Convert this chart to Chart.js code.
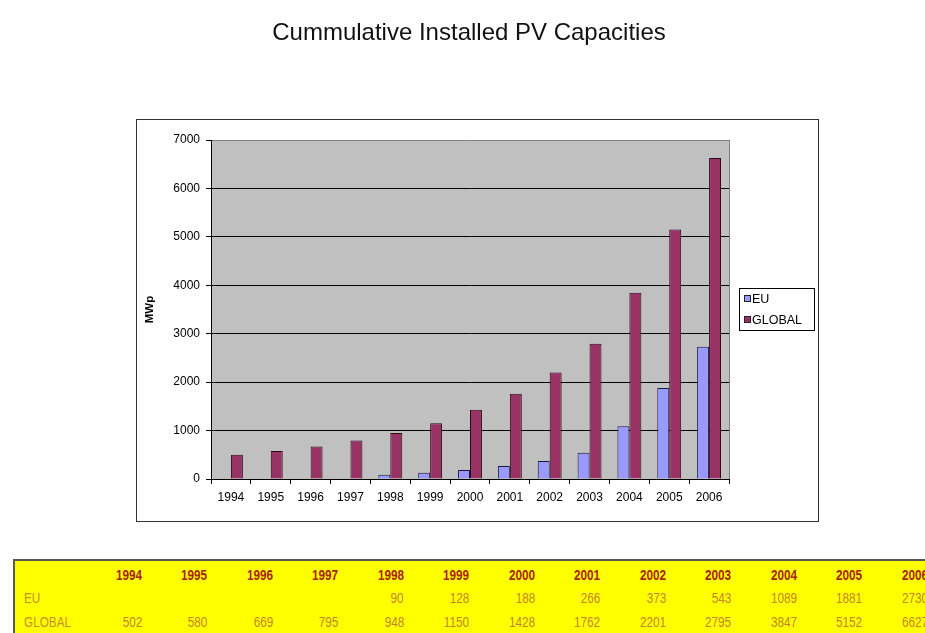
<!DOCTYPE html>
<html>
<head>
<meta charset="utf-8">
<script src="https://cdn.jsdelivr.net/npm/chart.js@4.4.1/dist/chart.umd.min.js"></script>
<style>
  html, body { margin: 0; padding: 0; background: #fff; overflow: hidden; width: 925px; height: 633px; }
  #wrap { position: absolute; left: 0; top: 0; width: 925px; height: 555px; }
  #title { position: absolute; left: 169px; top: 18px; width: 600px; text-align: center; line-height: 28px;
           font-family: "Liberation Sans", Arial, sans-serif; font-size: 24px; color: #111; }
  #tbl { position: absolute; left: 13px; top: 559px; width: 930px; height: 80px; background: #FFFF00;
         border-top: 2px solid #5a5a50; border-left: 2px solid #5a5a50; overflow: hidden; }
  #tbl table { border-collapse: collapse; border-spacing: 0; table-layout: fixed; width: 913px; margin: 2px 0 0 0;
               font-family: "Liberation Sans", Arial, sans-serif; font-size: 14px; }
  #tbl td { height: 23.5px; padding: 0; white-space: nowrap; box-sizing: border-box; }
  #tbl td span { display: inline-block; transform: scaleX(0.84); }
  #tbl td.lab { width: 61.5px; padding-left: 9px; text-align: left; color: #C8902E; }
  #tbl td.lab span { transform-origin: left center; }
  #tbl td.num { width: 65.5px; text-align: right; color: #C4862A; }
  #tbl td.num span, #tbl td.hdr span { transform-origin: right center; }
  #tbl td.hdr { width: 65.5px; text-align: right; color: #A8240A; font-weight: bold; }
</style>
</head>
<body>
<div id="wrap"><canvas id="c" width="925" height="555"></canvas></div>
<div id="title"></div>
<div id="tbl"></div>
<script>
const TITLE = "Cummulative Installed PV Capacities";
const years = ["1994","1995","1996","1997","1998","1999","2000","2001","2002","2003","2004","2005","2006"];
const euValues = [null, null, null, null, 90, 128, 188, 266, 373, 543, 1089, 1881, 2730];
const globalValues = [502, 580, 669, 795, 948, 1150, 1428, 1762, 2201, 2795, 3847, 5152, 6627];
const yTicks = [0, 1000, 2000, 3000, 4000, 5000, 6000, 7000];
const seriesNames = ["EU", "GLOBAL"];
const yAxisTitle = "MWp";

document.getElementById('title').textContent = TITLE;

const decor = {
  id: 'decor',
  beforeDraw(chart) {
    const ctx = chart.ctx, a = chart.chartArea;
    ctx.save();
    ctx.fillStyle = '#fff';
    ctx.fillRect(0, 0, chart.width, chart.height);
    ctx.strokeStyle = '#333';
    ctx.lineWidth = 1;
    ctx.strokeRect(136.5, 119.5, 682, 402);
    ctx.fillStyle = '#C0C0C0';
    ctx.fillRect(a.left, a.top, a.right - a.left, a.bottom - a.top);
    ctx.restore();
  },
  afterDraw(chart) {
    const ctx = chart.ctx, a = chart.chartArea;
    ctx.save();
    ctx.strokeStyle = '#808080';
    ctx.lineWidth = 1;
    ctx.beginPath();
    ctx.moveTo(Math.round(a.right) + 0.5, a.top);
    ctx.lineTo(Math.round(a.right) + 0.5, a.bottom);
    ctx.stroke();
    // legend
    const lx = 739.5, ly = 288.5, lw = 75, lh = 42;
    ctx.fillStyle = '#fff';
    ctx.fillRect(lx, ly, lw, lh);
    ctx.strokeStyle = '#000';
    ctx.strokeRect(lx, ly, lw, lh);
    ctx.font = '12.5px "Liberation Sans", Arial, sans-serif';
    ctx.textBaseline = 'middle';
    chart.data.datasets.forEach((ds, i) => {
      const cy = 299 + i * 21;
      ctx.fillStyle = ds.backgroundColor;
      ctx.fillRect(744, cy - 3, 6, 6);
      ctx.strokeStyle = '#222';
      ctx.strokeRect(744.5, cy - 3.5, 6, 6);
      ctx.fillStyle = '#000';
      ctx.fillText(ds.label, 752, cy + 1);
    });
    ctx.restore();
  }
};

const ctx = document.getElementById('c').getContext('2d');
new Chart(ctx, {
  type: 'bar',
  data: {
    labels: years,
    datasets: [
      { label: seriesNames[0], data: euValues, backgroundColor: '#9999FF', borderColor: '#1a1a40', borderWidth: 1,
        categoryPercentage: 0.6, barPercentage: 1.0 },
      { label: seriesNames[1], data: globalValues, backgroundColor: '#993366', borderColor: '#2a0a18', borderWidth: 1,
        categoryPercentage: 0.6, barPercentage: 1.0 }
    ]
  },
  plugins: [decor],
  options: {
    responsive: false,
    animation: false,
    devicePixelRatio: 1,
    layout: { padding: { left: 143, right: 196, top: 140, bottom: 46 } },
    plugins: {
      legend: { display: false },
      tooltip: { enabled: false },
      title: { display: false }
    },
    scales: {
      x: {
        afterFit(s) { s.height = 30; },
        grid: { display: true, drawOnChartArea: false, offset: true, tickLength: 5, color: '#000', tickColor: '#000' },
        border: { display: true, color: '#000', width: 1 },
        ticks: { color: '#000', padding: 6, maxRotation: 0, autoSkip: false,
                 font: { family: '"Liberation Sans", Arial, sans-serif', size: 12 } }
      },
      y: {
        min: yTicks[0], max: yTicks[yTicks.length - 1],
        afterFit(s) { s.width = 68; },
        afterBuildTicks(s) { s.ticks = yTicks.map(v => ({ value: v })); },
        grid: {
          color: c => (c.tick && c.tick.value === yTicks[yTicks.length - 1]) ? '#808080' : '#000',
          tickColor: '#000', tickLength: 5, lineWidth: 1
        },
        border: { display: true, color: '#000', width: 1 },
        ticks: { color: '#000', padding: 6, callback: v => String(v),
                 font: { family: '"Liberation Sans", Arial, sans-serif', size: 12 } },
        title: { display: true, text: yAxisTitle, color: '#000', padding: 0,
                 font: { family: '"Liberation Sans", Arial, sans-serif', size: 11.5, weight: 'bold' } }
      }
    }
  }
});

// data table
(function () {
  const t = document.createElement('table');
  const rows = [["", years, 'hdr'], [seriesNames[0], euValues, 'num'], [seriesNames[1], globalValues, 'num']];
  rows.forEach(([name, vals, cls]) => {
    const tr = document.createElement('tr');
    const l = document.createElement('td');
    l.className = 'lab';
    const ls = document.createElement('span');
    ls.textContent = name;
    l.appendChild(ls);
    tr.appendChild(l);
    vals.forEach(v => {
      const td = document.createElement('td');
      td.className = cls;
      const s = document.createElement('span');
      s.textContent = v === null ? '' : String(v);
      td.appendChild(s);
      tr.appendChild(td);
    });
    t.appendChild(tr);
  });
  document.getElementById('tbl').appendChild(t);
})();
</script>
</body>
</html>
